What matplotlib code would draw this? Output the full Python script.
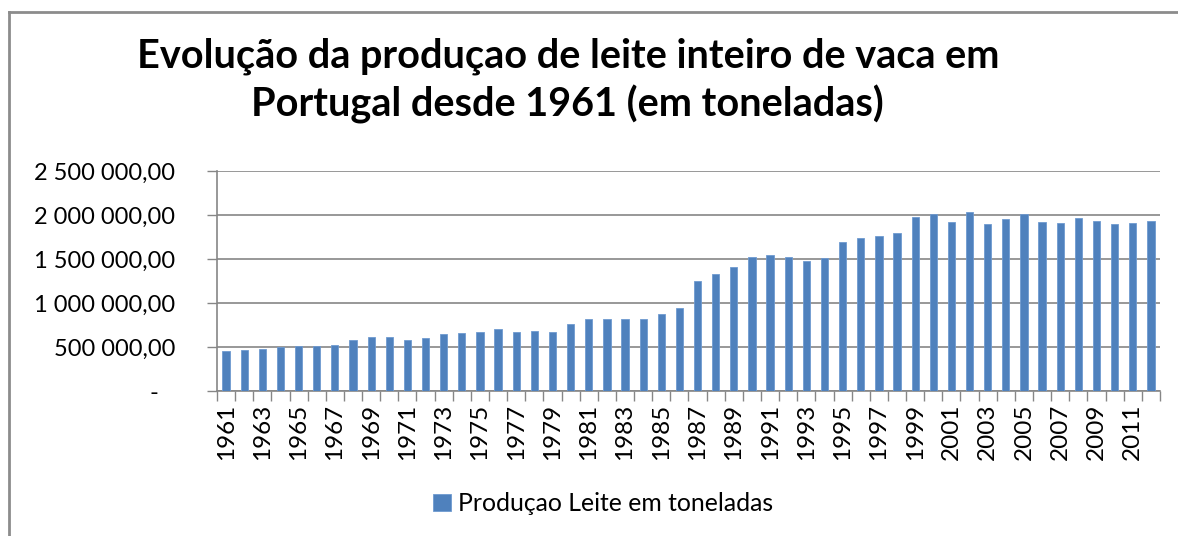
import matplotlib
matplotlib.use("Agg")
import matplotlib.pyplot as plt
from matplotlib.lines import Line2D
from matplotlib.transforms import ScaledTranslation
from matplotlib.ticker import FuncFormatter

# Produção de leite inteiro de vaca em Portugal (toneladas)
years = ['1961', '1962', '1963', '1964', '1965', '1966', '1967', '1968', '1969', '1970',
         '1971', '1972', '1973', '1974', '1975', '1976', '1977', '1978', '1979', '1980',
         '1981', '1982', '1983', '1984', '1985', '1986', '1987', '1988', '1989', '1990',
         '1991', '1992', '1993', '1994', '1995', '1996', '1997', '1998', '1999', '2000',
         '2001', '2002', '2003', '2004', '2005', '2006', '2007', '2008', '2009', '2010',
         '2011', '2012']
milk_t = [451000, 466000, 481000, 500000, 508000, 508000, 526000, 583000, 610000, 610000,
          583000, 598000, 644000, 655000, 670000, 701000, 670000, 686000, 670000, 758000,
          814000, 814000, 814000, 814000, 871000, 947000, 1254000, 1326000, 1413000, 1527000,
          1542000, 1527000, 1474000, 1515000, 1689000, 1735000, 1761000, 1792000, 1981000, 2008000,
          1924000, 2038000, 1894000, 1951000, 2008000, 1924000, 1909000, 1966000, 1936000, 1894000,
          1909000, 1936000]
y_ticks = [0, 500000, 1000000, 1500000, 2000000, 2500000]

title = 'Evolução da produçao de leite inteiro de vaca em\nPortugal desde 1961 (em toneladas)'
series_name = 'Produçao Leite em toneladas'

plt.rcParams['font.family'] = ['Lato', 'DejaVu Sans']

fig = plt.figure(figsize=(11.78, 5.36), dpi=100)
ax = fig.add_axes([0.1842, 0.2705, 0.8005, 0.4104])

grey = '#868686'
x = list(range(len(years)))
ax.bar(x, milk_t, width=0.4, color='#4F81BD', edgecolor='#6f9ad0', linewidth=0.6,
       label=series_name, zorder=3)

ax.set_xlim(-0.5, len(years) - 0.5)
ax.set_ylim(0, 2500000)

# y axis
def fmt(v, pos):
    if v == 0:
        return '-'
    s = f'{v:,.2f}'
    return s.replace(',', ' ').replace('.', ',')

ax.set_yticks(y_ticks)
ax.yaxis.set_major_formatter(FuncFormatter(fmt))
ax.tick_params(axis='y', length=7, width=1, color=grey, labelsize=17, pad=37 - 7 - 7)
ax.yaxis.grid(True, color=grey, linewidth=1.2, zorder=0)
ax.set_axisbelow(True)

# x axis: labels every other year, tick marks between categories
ax.set_xticks(x[::2])
ax.set_xticklabels(years[::2], rotation=90)
ax.set_xticks([i - 0.5 for i in range(len(years) + 1)], minor=True)
ax.tick_params(axis='x', which='major', length=0, labelsize=17.5, pad=9)
ax.tick_params(axis='x', which='minor', length=7, width=1, color=grey)

for side in ['top', 'right']:
    ax.spines[side].set_visible(False)
for side in ['left', 'bottom']:
    ax.spines[side].set_color(grey)
    ax.spines[side].set_linewidth(1.2)

fig.canvas.draw()
zero_lab = ax.yaxis.get_major_ticks()[0].label1
zero_lab.set_transform(zero_lab.get_transform() + ScaledTranslation(-0.17, 0, fig.dpi_scale_trans))

fig.text(0.482, 0.849, title, ha='center', va='center', fontsize=28.5, fontweight='bold',
         linespacing=1.3)

fig.legend(loc='center', bbox_to_anchor=(0.512, 0.06), frameon=False, fontsize=17.8,
           handlelength=0.7, handleheight=0.7, handletextpad=0.3)

# chart area border
fig.add_artist(Line2D([9 / 1178, 9 / 1178], [0, 1 - 12 / 536], transform=fig.transFigure,
                      color='#8c8c8c', linewidth=2))
fig.add_artist(Line2D([9 / 1178, 1], [1 - 12 / 536, 1 - 12 / 536], transform=fig.transFigure,
                      color='#8c8c8c', linewidth=2))

fig.savefig('out.png', dpi=100)
